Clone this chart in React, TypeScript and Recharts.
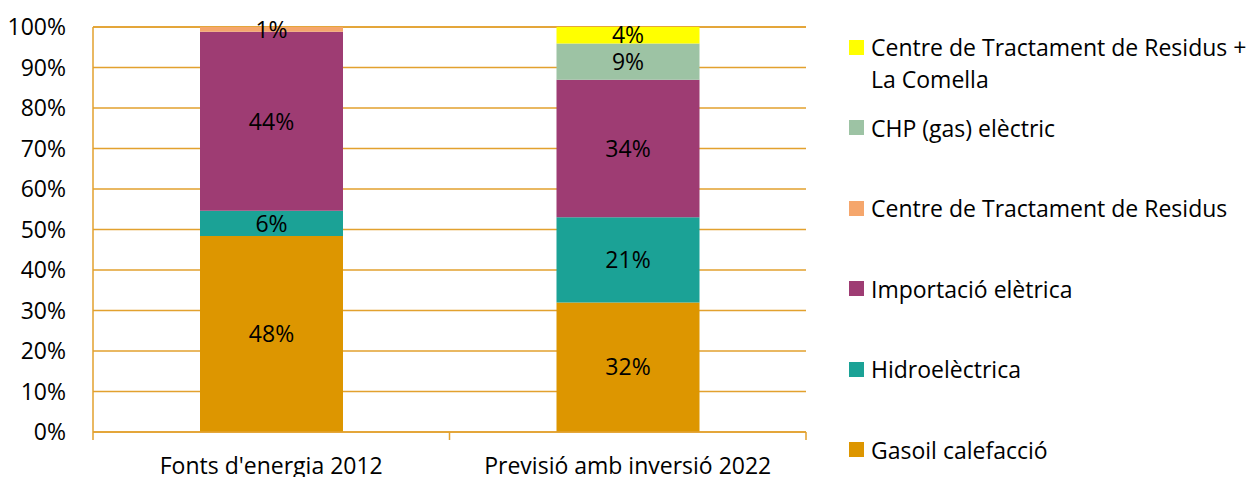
import React from "react";
import { BarChart, Bar, XAxis, YAxis, CartesianGrid, LabelList, Legend } from "recharts";

const categories = ["Fonts d'energia 2012", "Previsió amb inversió 2022"];
const gasoilCalefaccio = [48.4, 32.0];
const hidroelectrica = [6.2, 21.0];
const importacioElectrica = [44.2, 34.0];
const centreTractament = [1.2, 0];
const chpGasElectric = [0, 8.9];
const centreTractamentComella = [0, 4.1];
const yTicks = [0, 10, 20, 30, 40, 50, 60, 70, 80, 90, 100];

const series = [
  { key: "gasoil", name: "Gasoil calefacció", values: gasoilCalefaccio, color: "#DD9600" },
  { key: "hidro", name: "Hidroelèctrica", values: hidroelectrica, color: "#1BA296" },
  { key: "importacio", name: "Importació elètrica", values: importacioElectrica, color: "#9E3C73" },
  { key: "ctr", name: "Centre de Tractament de Residus", values: centreTractament, color: "#F5A66C" },
  { key: "chp", name: "CHP (gas) elèctric", values: chpGasElectric, color: "#9DC3A4" },
  { key: "ctrComella", name: "Centre de Tractament de Residus + La Comella", values: centreTractamentComella, color: "#FFFF00" },
];

const data = categories.map((c, i) => {
  const row: any = { category: c };
  series.forEach((s) => (row[s.key] = s.values[i]));
  return row;
});

const FONT = "'Open Sans', sans-serif";
const FS = 23;
const GRID = "#E2A12E";

const XTick = (props: any) => {
  const { x, y, payload, width, visibleTicksCount, index } = props;
  const half = payload && typeof payload.offset === "number" && payload.offset > 0 ? payload.offset : width / (2 * visibleTicksCount);
  return (
    <g>
      <line x1={x - half} x2={x - half} y1={y} y2={y + 8} stroke={GRID} strokeWidth={1.5} />
      {index === visibleTicksCount - 1 && (
        <line x1={x + half} x2={x + half} y1={y} y2={y + 8} stroke={GRID} strokeWidth={1.5} />
      )}
      <text x={x} y={y + 42} textAnchor="middle" fill="#000" fontSize={FS} fontFamily={FONT}>
        {payload.value}
      </text>
    </g>
  );
};

const LegendContent = (props: any) => {
  const payload = props.payload || [];
  const order = series.map((s) => s.name).reverse();
  const items = order
    .map((n) => payload.find((p: any) => p.value === n))
    .filter(Boolean);
  return (
    <div style={{ fontFamily: FONT, fontSize: FS, color: "#000" }}>
      {items.map((it: any) => (
        <div key={it.value} style={{ height: 80.5, display: "flex", alignItems: "flex-start" }}>
          <div style={{ width: 15, height: 15, background: it.color, marginTop: 8.5, flex: "0 0 15px" }} />
          <div style={{ marginLeft: 7, lineHeight: "32px", width: 380 }}>{it.value}</div>
        </div>
      ))}
    </div>
  );
};

const fmt = (v: any) => (typeof v === "number" && v > 0 ? `${Math.round(v)}%` : "");

export default function App() {
  return (
    <div style={{ position: "absolute", left: 0, top: 0, width: 1251, height: 477, background: "#fff", overflow: "hidden" }}>
      <BarChart
        width={1251}
        height={477}
        data={data}
        margin={{ top: 27, right: 445, bottom: 0, left: 0 }}
        barSize={143}
      >
        <CartesianGrid vertical={false} stroke={GRID} strokeWidth={1.5} yAxisId="left" />
        <XAxis
          dataKey="category"
          height={45}
          tickSize={0}
          tickMargin={0}
          axisLine={{ stroke: GRID, strokeWidth: 1.5 }}
          tickLine={false}
          tick={<XTick />}
          interval={0}
        />
        <YAxis
          yAxisId="left"
          width={93}
          domain={[0, 100]}
          ticks={yTicks}
          tickFormatter={(v: number) => `${v}%`}
          tickSize={0}
          tickMargin={27}
          axisLine={{ stroke: GRID, strokeWidth: 1.5 }}
          tickLine={false}
          tick={{ fill: "#000", fontSize: FS, fontFamily: FONT }}
          interval={0}
        />
        <YAxis
          yAxisId="right"
          orientation="right"
          width={0}
          domain={[0, 100]}
          tick={false}
          tickLine={false}
          axisLine={{ stroke: GRID, strokeWidth: 1.5 }}
        />
        <Legend
          layout="vertical"
          align="center"
          verticalAlign="middle"
          content={<LegendContent />}
          wrapperStyle={{ position: "absolute", left: 849, top: 31, width: 402, height: 446 }}
        />
        {series.map((s) => (
          <Bar
            key={s.key}
            dataKey={s.key}
            name={s.name}
            stackId="a"
            yAxisId="left"
            fill={s.color}
            isAnimationActive={false}
          >
            <LabelList
              dataKey={s.key}
              position="center"
              formatter={fmt}
              fill="#000"
              fontSize={FS}
              fontFamily={FONT}
            />
          </Bar>
        ))}
      </BarChart>
    </div>
  );
}
